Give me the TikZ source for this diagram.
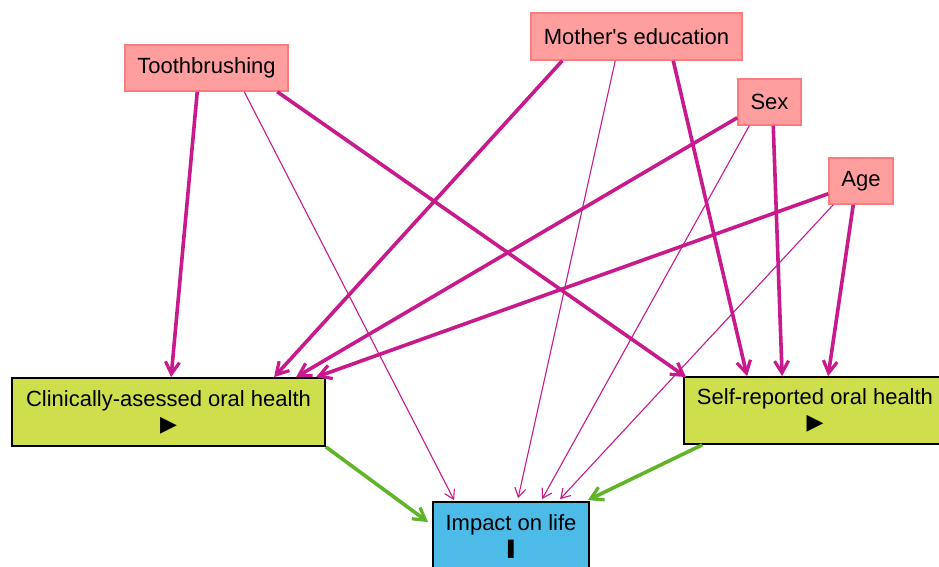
\documentclass[tikz,border=0pt]{standalone}
\usepackage{fontspec}
\setmainfont{Liberation Sans}
\newfontfamily\symfont{DejaVu Sans}
\usetikzlibrary{arrows.meta,calc}
\definecolor{mag}{RGB}{200,26,140}
\definecolor{pinkfill}{RGB}{255,158,158}
\definecolor{pinkdraw}{RGB}{255,122,122}
\definecolor{yg}{RGB}{206,222,76}
\definecolor{skyb}{RGB}{77,187,232}
\definecolor{grn}{RGB}{95,180,40}
\begin{document}
\begin{tikzpicture}[x=1pt,y=1pt,
  conf/.style={draw=pinkdraw,fill=pinkfill,line width=1.5pt,inner sep=0pt,
    font=\fontsize{22}{25}\selectfont},
  mainbox/.style={draw=black,line width=1.8pt,inner sep=0pt,align=center,
    font=\fontsize{22}{25}\selectfont},
  strongedge/.style={draw=mag,line width=3.6pt,-{Straight Barb[length=12pt,width=14pt,line width=3.2pt]}},
  weakedge/.style={draw=mag,line width=1.1pt,-{Straight Barb[length=9pt,width=11pt,line width=1.1pt]}},
  greenedge/.style={draw=grn,line width=3.6pt,-{Straight Barb[length=12pt,width=14pt,line width=3.2pt]}}]
\useasboundingbox (0,0) rectangle (939,566);
\fill[white] (0,0) rectangle (939,566);
% nodes
\node[conf,minimum width=163pt,minimum height=46pt] (tb) at (206.5,498) {\raisebox{-1.5pt}{Toothbrushing}};
\node[conf,minimum width=211pt,minimum height=47pt] (me) at (636.5,529.5) {Mother\textquotesingle s education};
\node[conf,minimum width=63pt,minimum height=46pt] (sex) at (769.5,464) {Sex};
\node[conf,minimum width=64pt,minimum height=46pt] (age) at (861,385) {\raisebox{-1pt}{Age}};
\node[mainbox,fill=yg,minimum width=313pt,minimum height=68pt] (clin) at (168.5,154)
  {Clinically-asessed oral health\\{\symfont\fontsize{22}{25}\selectfont ▶}};
\node[mainbox,fill=yg,minimum width=262pt,minimum height=67pt] (self) at (815,155.5)
  {Self-reported oral health\\{\symfont\fontsize{22}{25}\selectfont ▶}};
\node[mainbox,fill=skyb,minimum width=156pt,minimum height=68pt] (imp) at (511,30)
  {Impact on life\\{\symfont\fontsize{24}{25}\selectfont\scalebox{0.65}[1]{▮}}};
% edges from Toothbrushing
\draw[strongedge] ($(tb.south west)+(73,0)$) -- ($(clin.north west)+(160,0)$);
\draw[weakedge] ($(tb.south west)+(120,0)$) -- ($(imp.north west)+(22,1)$);
\draw[strongedge] ($(tb.south west)+(153,0)$) -- ($(self.north west)+(3,-1)$);
% edges from Mother's education
\draw[strongedge] ($(me.south west)+(32,0)$) -- ($(clin.north west)+(263,0)$);
\draw[weakedge] ($(me.south west)+(85,0)$) -- ($(imp.north west)+(86,3)$);
\draw[strongedge] ($(me.south west)+(143,0)$) -- ($(self.north west)+(64,0)$);
% edges from Sex
\draw[strongedge] ($(sex.south west)+(0,8)$) -- ($(clin.north west)+(285,0)$);
\draw[weakedge] ($(sex.south west)+(12,0)$) -- ($(imp.north west)+(110,2)$);
\draw[strongedge] ($(sex.south west)+(36,0)$) -- ($(self.north west)+(99,0)$);
% edges from Age
\draw[strongedge] ($(age.south west)+(0,11)$) -- ($(clin.north west)+(305,0)$);
\draw[weakedge] ($(age.south west)+(5,0)$) -- ($(imp.north west)+(128,2)$);
\draw[strongedge] ($(age.south west)+(25,0)$) -- ($(self.north west)+(145,0)$);
% green edges
\draw[greenedge] (clin.south east) -- ($(imp.north west)+(-4,-21)$);
\draw[greenedge] ($(self.south west)+(19,0)$) -- ($(imp.north east)+(-2,1)$);
\end{tikzpicture}
\end{document}
